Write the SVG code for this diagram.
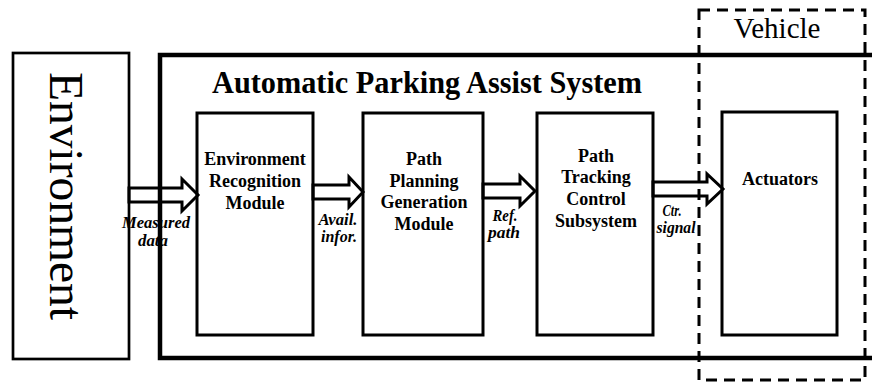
<svg xmlns="http://www.w3.org/2000/svg" width="872" height="384" viewBox="0 0 872 384">
<style>
.box{fill:#fff;stroke:#000;stroke-width:3}
.lbl{font-weight:bold;font-size:18px;text-anchor:middle;fill:#000}
.sig{font-weight:bold;font-style:italic;font-size:16px;text-anchor:middle;fill:#000}
.arr{fill:none;stroke:#000;stroke-width:3;stroke-linejoin:miter}
</style>
<rect width="872" height="384" fill="#fff"/>
<g font-family="Liberation Serif, Times New Roman, serif">
<g id="environment">
<rect x="13" y="53" width="116" height="306" fill="#fff" stroke="#000" stroke-width="2.7"/>
<text transform="translate(50,196) rotate(90)" font-size="47.5" text-anchor="middle">Environment</text>
</g>
<g id="apas">
<rect x="160" y="55" width="800" height="303" fill="none" stroke="#000" stroke-width="4.5"/>
<text x="427" y="93" font-weight="bold" font-size="31" text-anchor="middle" textLength="430" lengthAdjust="spacingAndGlyphs">Automatic Parking Assist System</text>
</g>
<g id="vehicle">
<rect x="699" y="10" width="166" height="370" fill="none" stroke="#000" stroke-width="3" stroke-dasharray="11 7"/>
<text x="777" y="38" font-size="29" text-anchor="middle">Vehicle</text>
</g>
<g id="erm">
<rect class="box" x="197" y="113" width="116" height="222"/>
<text class="lbl" x="255" y="165">Environment</text>
<text class="lbl" x="255" y="187">Recognition</text>
<text class="lbl" x="255" y="209">Module</text>
</g>
<g id="ppg">
<rect class="box" x="363" y="113" width="120" height="222"/>
<text class="lbl" x="424" y="165">Path</text>
<text class="lbl" x="424" y="187">Planning</text>
<text class="lbl" x="424" y="208">Generation</text>
<text class="lbl" x="424" y="230">Module</text>
</g>
<g id="ptc">
<rect class="box" x="537" y="113" width="116" height="222"/>
<text class="lbl" x="596" y="162">Path</text>
<text class="lbl" x="596" y="183">Tracking</text>
<text class="lbl" x="596" y="205">Control</text>
<text class="lbl" x="596" y="227">Subsystem</text>
</g>
<g id="actuators">
<rect class="box" x="722" y="112" width="115" height="223"/>
<text class="lbl" x="780" y="185">Actuators</text>
</g>
<g id="connectors">
<polygon class="arr" points="129,188 182,188 182,179 198,195 182,211 182,202 129,202"/>
<polygon class="arr" points="313,185 349,185 349,177 363,192 349,207 349,199 313,199"/>
<polygon class="arr" points="483,184 520,184 520,176 535,191 520,206 520,198 483,198"/>
<polygon class="arr" points="653,182 707,182 707,174 723,189 707,204 707,196 653,196"/>
<text class="sig" x="156" y="228" textLength="68" lengthAdjust="spacingAndGlyphs">Measured</text>
<text class="sig" x="153" y="246" textLength="30" lengthAdjust="spacingAndGlyphs">data</text>
<text class="sig" x="338" y="225" textLength="39" lengthAdjust="spacingAndGlyphs">Avail.</text>
<text class="sig" x="339" y="242" textLength="36" lengthAdjust="spacingAndGlyphs">infor.</text>
<text class="sig" x="505" y="221" textLength="25" lengthAdjust="spacingAndGlyphs">Ref.</text>
<text class="sig" x="504" y="238" textLength="32" lengthAdjust="spacingAndGlyphs">path</text>
<text class="sig" x="672" y="216" textLength="19" lengthAdjust="spacingAndGlyphs">Ctr.</text>
<text class="sig" x="676" y="233" textLength="39" lengthAdjust="spacingAndGlyphs">signal</text>
</g>
</g>
</svg>
